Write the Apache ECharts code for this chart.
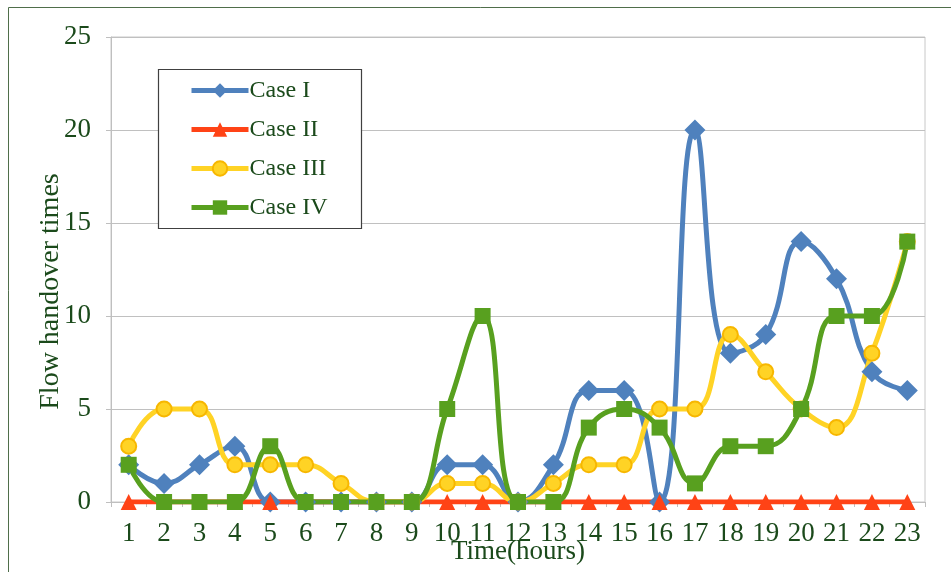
<!DOCTYPE html>
<html><head><meta charset="utf-8">
<script src="https://cdn.jsdelivr.net/npm/echarts@6/dist/echarts.min.js"></script>
<style>html,body{margin:0;padding:0;background:#fff}#c{width:951px;height:572px}</style>
</head><body><div id="c"></div>
<script>
const categories = ['1','2','3','4','5','6','7','8','9','10','11','12','13','14','15','16','17','18','19','20','21','22','23'];
const caseI   = [2,1,2,3,0,0,0,0,0,2,2,0,2,6,6,0,20,8,9,14,12,7,6];
const caseII  = [0,0,0,0,0,0,0,0,0,0,0,0,0,0,0,0,0,0,0,0,0,0,0];
const caseIII = [3,5,5,2,2,2,1,0,0,1,1,0,1,2,2,5,5,9,7,5,4,8,14];
const caseIV  = [2,0,0,0,3,0,0,0,0,5,10,0,0,4,5,4,1,3,3,5,10,10,14];
const yTicks = [0,5,10,15,20,25];

const txt = '#1b4a1b';
const font = 'Liberation Serif';
const chart = echarts.init(document.getElementById('c'));
function mk(name, data, color, symbol, size, extra) {
  return Object.assign({
    name, type: 'line', data, smooth: 0.45,
    symbol, symbolSize: size,
    lineStyle: { color, width: 5 },
    itemStyle: { color },
    emphasis: { disabled: true }
  }, extra || {});
}
chart.setOption({
  animation: false,
  textStyle: { fontFamily: font },
  graphic: [
    { type: 'rect', shape: { x: 8.5, y: 7.5, width: 1000, height: 700 }, style: { fill: 'none', stroke: '#4f6e4a', lineWidth: 1 }, z: -1 },
    { type: 'rect', shape: { x: 158.5, y: 69.5, width: 203, height: 159 }, style: { fill: '#fff', stroke: '#404040', lineWidth: 1.2 }, z: 5 }
  ],
  grid: { left: 111, right: 26, top: 37, bottom: 70, show: true, borderColor: '#c8c8c8', borderWidth: 1 },
  legend: {
    orient: 'vertical', left: 189, top: 78, padding: 0, z: 10,
    itemWidth: 57, itemHeight: 18, itemGap: 14,
    lineStyle: { width: 5 },
    textStyle: { fontFamily: font, fontSize: 24, lineHeight: 25, color: txt, padding: [0, 0, 0, -4] },
    data: ['Case I', 'Case II', 'Case III', 'Case IV']
  },
  xAxis: {
    type: 'category', data: categories, boundaryGap: true,
    name: 'Time(hours)', nameLocation: 'middle', nameGap: 36, nameMoveOverlap: false,
    nameTextStyle: { fontFamily: font, fontSize: 27, color: txt },
    axisLine: { lineStyle: { color: '#bfbfbf', width: 1 } },
    axisTick: { show: true, alignWithLabel: false, length: 5, lineStyle: { color: '#bfbfbf' } },
    axisLabel: { fontFamily: font, fontSize: 27, color: txt, margin: 18, interval: 0 },
    splitLine: { show: false }
  },
  yAxis: {
    type: 'value', min: 0, max: 25, interval: 5,
    name: 'Flow handover times', nameLocation: 'middle', nameGap: 46, nameRotate: 90, nameMoveOverlap: false,
    nameTextStyle: { fontFamily: font, fontSize: 28, color: txt, padding: [0, 44, 0, 0] },
    axisLine: { show: true, lineStyle: { color: '#bfbfbf', width: 1 } },
    axisTick: { show: true, length: 5, lineStyle: { color: '#bfbfbf' } },
    axisLabel: { fontFamily: font, fontSize: 27, color: txt, margin: 20,
      formatter: v => yTicks.includes(v) ? String(v) : '' },
    splitLine: { lineStyle: { color: '#c0c0c0', width: 1 } }
  },
  series: [
    mk('Case I', caseI, '#4f81bd', 'diamond', 21),
    mk('Case II', caseII, '#ff4316', 'triangle', 16),
    mk('Case III', caseIII, '#ffd325', 'circle', 15, { itemStyle: { color: '#ffd325', borderColor: '#f7b700', borderWidth: 2 } }),
    mk('Case IV', caseIV, '#58a01f', 'rect', 16)
  ]
});
</script></body></html>
